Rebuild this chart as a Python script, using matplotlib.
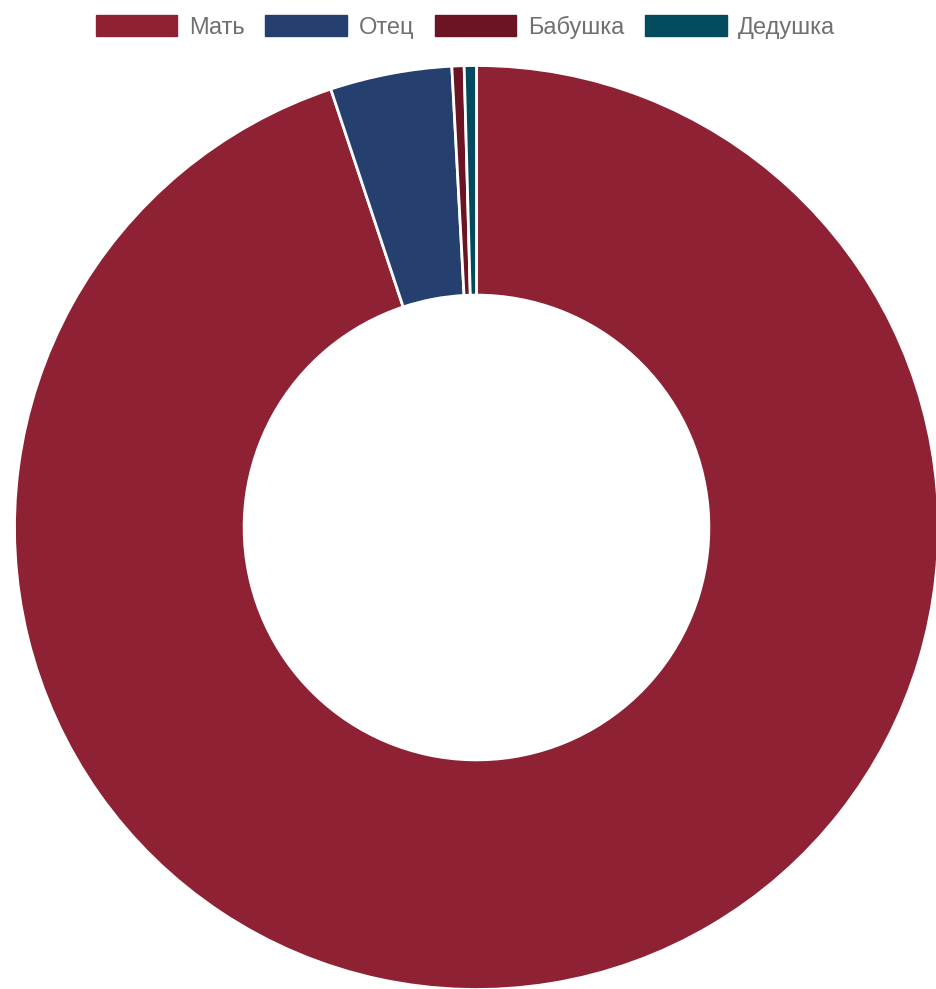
import matplotlib
matplotlib.use("Agg")
import matplotlib.pyplot as plt
from matplotlib.patches import Patch

labels = ["Мать", "Отец", "Бабушка", "Дедушка"]
values = [223, 10, 1, 1]
colors = ["#8E2133", "#25406F", "#6B1424", "#024B5E"]

W, H = 936, 989
fig = plt.figure(figsize=(W / 100, H / 100), dpi=100)
cx, cy, r = 476.5, 527.5, 462.0
ax = fig.add_axes([(cx - r) / W, (H - cy - r) / H, 2 * r / W, 2 * r / H])
ax.pie(values, colors=colors, startangle=90, counterclock=False, radius=1,
       wedgeprops=dict(width=0.497, edgecolor="white", linewidth=2.0))
ax.set_xlim(-1, 1)
ax.set_ylim(-1, 1)
ax.set_aspect("equal")
ax.axis("off")

handles = [Patch(facecolor=c, edgecolor=c, label=l) for c, l in zip(colors, labels)]
fs = 17.0
leg = fig.legend(handles=handles, loc="center", bbox_to_anchor=(465.5 / W, 1 - 27 / H),
                 ncol=4, frameon=False, handlelength=3.45, handleheight=1.0,
                 handletextpad=0.5, columnspacing=0.88, borderaxespad=0, borderpad=0,
                 prop={"family": "Liberation Sans", "size": fs})
for t in leg.get_texts():
    t.set_color("#707070")

fig.savefig("out.png", dpi=100)
